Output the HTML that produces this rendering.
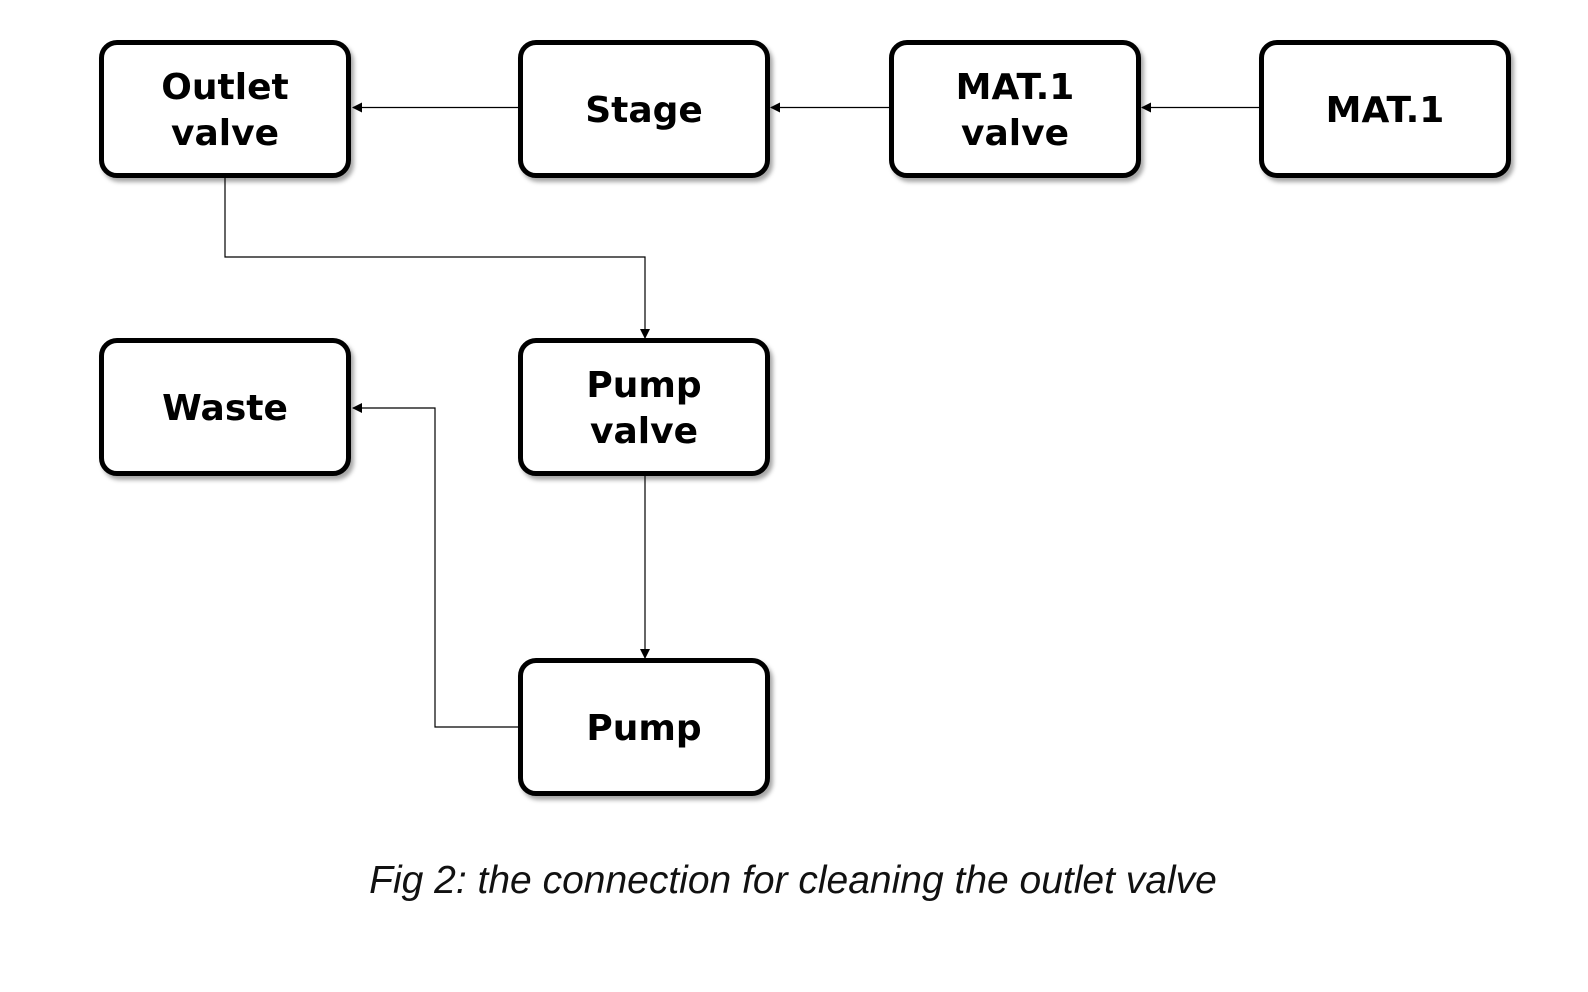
<!DOCTYPE html>
<html><head><style>
body{margin:0;width:1588px;height:992px;background:#fff;position:relative;overflow:hidden}
.b{position:absolute;width:242px;height:124px;border:5px solid #000;border-radius:18px;background:#fff;box-shadow:3px 4px 4px rgba(0,0,0,.35);display:flex;align-items:center;justify-content:center;text-align:center;font:bold 36px/46px "DejaVu Sans",sans-serif;color:#000;padding-top:4px;box-sizing:content-box}
.cap{position:absolute;left:0;width:1586px;top:859px;text-align:center;font:italic 39px "Liberation Sans",sans-serif;color:#111}
svg{position:absolute;left:0;top:0}
</style></head><body>
<svg width="1588" height="992">
<defs><marker id="a" markerWidth="10" markerHeight="10" refX="9" refY="5" orient="auto" markerUnits="userSpaceOnUse"><path d="M0,0 L10,5 L0,10 z" fill="#000"/></marker></defs>
<g stroke="#000" stroke-width="1.2" fill="none">
<path d="M518,107.5 H353" marker-end="url(#a)"/>
<path d="M889,107.5 H771" marker-end="url(#a)"/>
<path d="M1259,107.5 H1142" marker-end="url(#a)"/>
<path d="M225,176 V257 H645 V338" marker-end="url(#a)"/>
<path d="M645,474 V658" marker-end="url(#a)"/>
<path d="M518,727 H435 V408 H353" marker-end="url(#a)"/>
</g></svg>
<div class="b" style="left:99px;top:40px">Outlet<br>valve</div>
<div class="b" style="left:518px;top:40px">Stage</div>
<div class="b" style="left:889px;top:40px">MAT.1<br>valve</div>
<div class="b" style="left:1259px;top:40px">MAT.1</div>
<div class="b" style="left:99px;top:338px">Waste</div>
<div class="b" style="left:518px;top:338px">Pump<br>valve</div>
<div class="b" style="left:518px;top:658px">Pump</div>
<div class="cap">Fig 2: the connection for cleaning the outlet valve</div>
</body></html>
